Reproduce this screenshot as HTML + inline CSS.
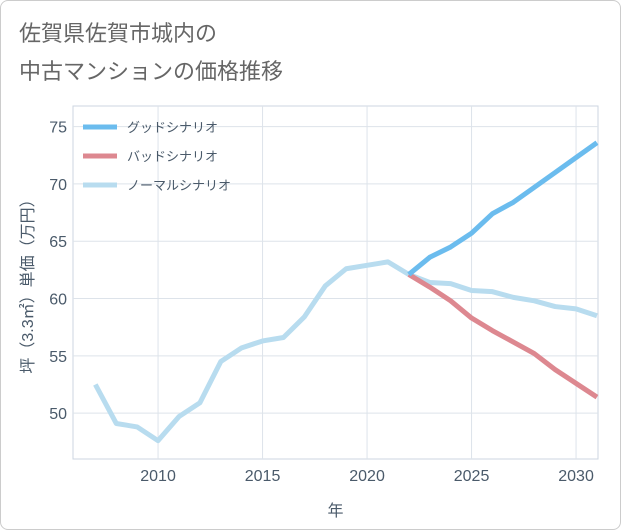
<!DOCTYPE html>
<html><head><meta charset="utf-8">
<style>
body{margin:0;background:#fff;}
#card{position:absolute;left:0;top:0;width:619px;height:528px;border:1px solid #ccc;border-radius:8px;background:#fff;overflow:hidden;}
svg{position:absolute;left:0;top:0;}
text{font-family:"Liberation Sans","Noto Sans CJK JP",sans-serif;}
</style></head><body>
<div id="card">
<svg id="chart" width="621" height="530">
<text x="18" y="40" font-size="22" fill="#666">佐賀県佐賀市城内の</text>
<text x="18" y="78" font-size="22" fill="#666">中古マンションの価格推移</text>
</svg></div>
<script>
const years=[2007,2008,2009,2010,2011,2012,2013,2014,2015,2016,2017,2018,2019,2020,2021,2022,2023,2024,2025,2026,2027,2028,2029,2030,2031];
const normal=[52.5,49.1,48.8,47.6,49.7,50.9,54.5,55.7,56.3,56.6,58.4,61.1,62.6,62.9,63.2,62.1,61.4,61.3,60.7,60.6,60.1,59.8,59.3,59.1,58.5];
const futureYears=[2022,2023,2024,2025,2026,2027,2028,2029,2030,2031];
const good=[62.1,63.6,64.5,65.7,67.4,68.4,69.7,71.0,72.3,73.6];
const bad=[62.1,61.0,59.8,58.3,57.2,56.2,55.2,53.8,52.6,51.4];
const xTicks=[2010,2015,2020,2025,2030];
const yTicks=[50,55,60,65,70,75];
const L=72,R=597,T=105,B=458,x0=2005.93,x1=2031.05,y0=46.0,y1=76.8;
const X=v=>L+(v-x0)/(x1-x0)*(R-L);
const Y=v=>B-(v-y0)/(y1-y0)*(B-T);
const svg=document.getElementById('chart');const NS='http://www.w3.org/2000/svg';
function mk(t,a,p){const e=document.createElementNS(NS,t);for(const k in a)e.setAttribute(k,a[k]);(p||svg).appendChild(e);return e;}
const bg=mk('rect',{x:L,y:T,width:R-L,height:B-T,fill:'#fff',stroke:'#ccd6e0'});

xTicks.forEach(v=>{const g=mk('line',{x1:X(v),x2:X(v),y1:T,y2:B,stroke:'#dde3ea'});

const t=mk('text',{x:X(v),y:B+22,'text-anchor':'middle','font-size':16,fill:'#4a5a6a'});t.textContent=v;
});
yTicks.forEach(v=>{const g=mk('line',{x1:L,x2:R,y1:Y(v),y2:Y(v),stroke:'#dde3ea'});

const t=mk('text',{x:L-6,y:Y(v)+6,'text-anchor':'end','font-size':16,fill:'#4a5a6a'});t.textContent=v;
});
const xt=mk('text',{x:(L+R)/2,y:515,'text-anchor':'middle','font-size':16,fill:'#4a5a6a'});xt.textContent='年';

const yt=mk('text',{x:0,y:0,transform:`translate(32,${(T+B)/2}) rotate(-90)`,'text-anchor':'middle','font-size':16,fill:'#4a5a6a'});yt.textContent='坪（3.3㎡）単価（万円）';

function line(xs,ys,c,name){const p=mk('polyline',{points:xs.map((x,i)=>X(x)+','+Y(ys[i])).join(' '),fill:'none',stroke:c,'stroke-width':5,'stroke-linejoin':'round'});
}
line(years,normal,'#b8dcef','normal-scenario-line');
line(futureYears,bad,'#dd8890','bad-scenario-line');
line(futureYears,good,'#6bbcee','good-scenario-line');
[['グッドシナリオ','#6bbcee'],['バッドシナリオ','#dd8890'],['ノーマルシナリオ','#b8dcef']].forEach((d,i)=>{
const y=126+i*29;const l=mk('line',{x1:82,x2:116,y1:y,y2:y,stroke:d[1],'stroke-width':5});

const t=mk('text',{x:126,y:y+5,'font-size':13,fill:'#4a5a6a'});t.textContent=d[0];
});
</script></body></html>
